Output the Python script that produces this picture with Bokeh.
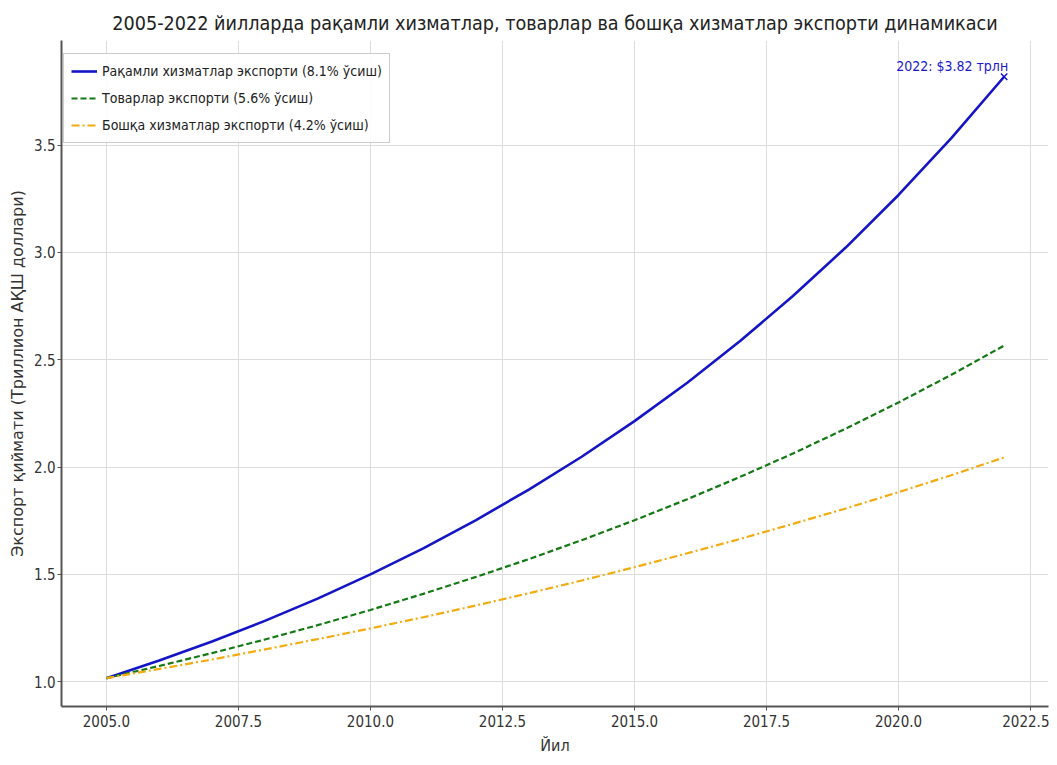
from bokeh.plotting import figure
from bokeh.models import Legend, LegendItem, FixedTicker, Label, NumeralTickFormatter
from bokeh.embed import file_html
from bokeh.resources import INLINE

years = list(range(2005, 2023))
digital = [1.016, 1.098, 1.187, 1.283, 1.387, 1.500, 1.621, 1.753, 1.895, 2.048,
           2.214, 2.393, 2.587, 2.797, 3.023, 3.268, 3.533, 3.819]
goods = [1.016, 1.073, 1.133, 1.196, 1.263, 1.334, 1.409, 1.488, 1.571, 1.659,
         1.752, 1.850, 1.954, 2.063, 2.179, 2.301, 2.430, 2.566]
other = [1.016, 1.059, 1.103, 1.150, 1.198, 1.248, 1.300, 1.355, 1.412, 1.471,
         1.533, 1.598, 1.665, 1.735, 1.807, 1.883, 1.962, 2.045]
labels = ["Рақамли хизматлар экспорти (8.1% ўсиш)",
          "Товарлар экспорти (5.6% ўсиш)",
          "Бошқа хизматлар экспорти (4.2% ўсиш)"]
x_ticks = [2005.0, 2007.5, 2010.0, 2012.5, 2015.0, 2017.5, 2020.0, 2022.5]
y_ticks = [1.0, 1.5, 2.0, 2.5, 3.0, 3.5]
title = "2005-2022 йилларда рақамли хизматлар, товарлар ва бошқа хизматлар экспорти динамикаси"
annot = "2022: $3.82 трлн"

NARROW = "DejaVu Sans Condensed"

p = figure(width=1049, height=757, output_backend="svg", toolbar_location=None,
           x_range=(2004.15, 2022.84), y_range=(0.884, 3.988),
           min_border_left=61, min_border_right=1, min_border_bottom=49, min_border_top=40)
p.title.text = title
p.title.align = "center"
p.title.text_font = NARROW
p.title.text_font_size = "19.6px"
p.title.text_font_style = "normal"
p.title.text_color = "#222222"
p.title.standoff = 12
p.outline_line_color = None

l1 = p.line(years, digital, line_color="#1515c8", line_width=2.6)
l2 = p.line(years, goods, line_color="#137a13", line_width=2.2, line_dash="6 3")
l3 = p.line(years, other, line_color="#f2ac10", line_width=2.2, line_dash="8 3 2 3")
p.scatter([years[-1]], [digital[-1]], marker="x", size=9, line_color="#1515c8", line_width=1.5)

lab = Label(x=years[-1], y=digital[-1], x_offset=4, y_offset=3, text=annot, text_align="right",
            text_baseline="bottom", text_color="#1a1acc", text_font=NARROW, text_font_size="14px")
p.add_layout(lab)

legend = Legend(items=[LegendItem(label=labels[0], renderers=[l1]),
                       LegendItem(label=labels[1], renderers=[l2]),
                       LegendItem(label=labels[2], renderers=[l3])],
                location=(2, 563))
legend.label_text_font = NARROW
legend.label_text_font_size = "14px"
legend.label_text_color = "#222222"
legend.border_line_color = "#cccccc"
legend.border_line_alpha = 1
legend.glyph_width = 26
legend.label_height = 20
legend.glyph_height = 20
legend.spacing = 7
legend.padding = 7
legend.margin = 0
legend.background_fill_alpha = 0.9
p.add_layout(legend)

for ax in (p.xaxis[0], p.yaxis[0]):
    ax.major_label_text_font = NARROW
    ax.major_label_text_font_size = "15px"
    ax.major_label_text_color = "#333333"
    ax.major_label_standoff = 4
    ax.axis_line_color = "#555555"
    ax.axis_line_width = 2
    ax.major_tick_line_color = "#555555"
    ax.major_tick_in = 0
    ax.major_tick_out = 4
    ax.minor_tick_line_color = None
    ax.formatter = NumeralTickFormatter(format="0.0")

p.yaxis[0].major_label_standoff = 2
p.xaxis[0].ticker = FixedTicker(ticks=x_ticks)
p.yaxis[0].ticker = FixedTicker(ticks=y_ticks)
p.xaxis[0].axis_label = "Йил"
p.xaxis[0].axis_label_text_font = NARROW
p.xaxis[0].axis_label_text_font_size = "16px"
p.xaxis[0].axis_label_text_font_style = "normal"
p.xaxis[0].axis_label_text_color = "#333333"
p.xaxis[0].axis_label_standoff = 6
p.yaxis[0].axis_label = "Экспорт қиймати (Триллион АҚШ доллари)"
p.yaxis[0].axis_label_text_font = "DejaVu Sans"
p.yaxis[0].axis_label_text_font_size = "16px"
p.yaxis[0].axis_label_text_font_style = "normal"
p.yaxis[0].axis_label_text_color = "#333333"
p.yaxis[0].axis_label_standoff = 4

p.xgrid.grid_line_color = "#dddddd"
p.ygrid.grid_line_color = "#dddddd"
p.xgrid.ticker = FixedTicker(ticks=x_ticks)
p.ygrid.ticker = FixedTicker(ticks=y_ticks)

open("out.html", "w").write(file_html(p, INLINE))
